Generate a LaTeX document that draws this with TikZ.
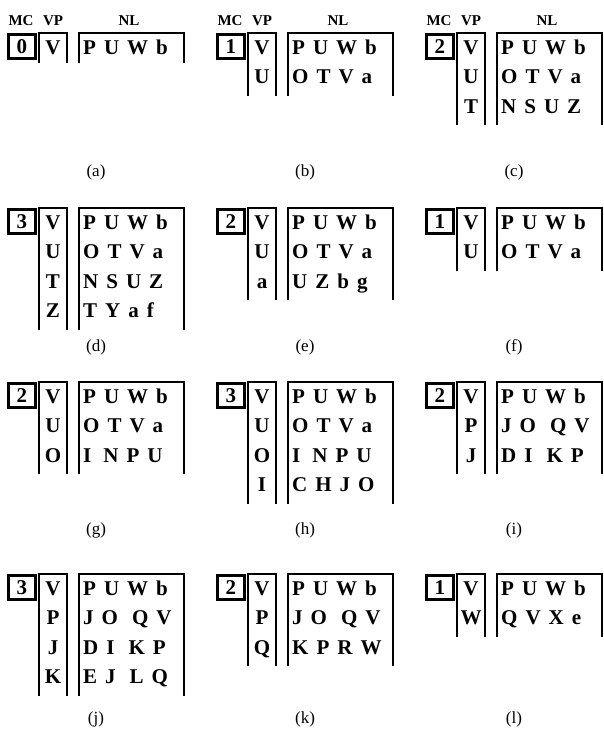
\documentclass[tikz,border=0pt]{standalone}
\usepackage{fontspec}
\setmainfont{Liberation Serif}
\usepackage{tikz}
\newcommand{\nlfont}{\bfseries\fontsize{21}{21}\selectfont\spaceskip 8pt\relax}

\begin{document}
\begin{tikzpicture}[x=1pt,y=-1pt,line join=miter,
  mcbox/.style={draw,line width=2.5pt,anchor=north west,minimum width=27pt,minimum height=24pt,inner sep=0pt,font=\bfseries\fontsize{21}{21}\selectfont},
  vpline/.style={line width=1.3pt},
  nlside/.style={line width=1.3pt},
  nltop/.style={line width=2.4pt},
  cell/.style={inner sep=0pt,anchor=base,font=\bfseries\fontsize{21}{21}\selectfont},
  nlrow/.style={inner sep=0pt,anchor=base west,font=\nlfont},
  head/.style={inner sep=0pt,anchor=base,font=\bfseries\fontsize{15}{15}\selectfont},
  tag/.style={inner sep=0pt,anchor=base,font=\fontsize{17}{17}\selectfont}]
\useasboundingbox (0,0) rectangle (604,742);

%% row 1 ---------------------------------------------
% (a)
\begin{scope}[shift={(7,33)}]
\node[head] (mcha) at (14,-8) {MC};
\node[head] (vpha) at (46,-8) {VP};
\node[head] (nlha) at (122,-8) {NL};
\node[mcbox] (mca) at (0,0) {0};
\draw[vpline] (32,30) |- (60,0) -- (60,30);
\draw[nlside] (72,30) |- (177,0) -- (177,30);
\draw[nltop] (72,0) -- (177,0);
\node[cell] (vpa1) at (46,21) {V};
\node[nlrow] (nla1) at (76,21) {P U W b};
\node[tag] (taga) at (89,143) {(a)};
\end{scope}

% (b)
\begin{scope}[shift={(216,33)}]
\node[head] (mchb) at (14,-8) {MC};
\node[head] (vphb) at (46,-8) {VP};
\node[head] (nlhb) at (122,-8) {NL};
\node[mcbox] (mcb) at (0,0) {1};
\draw[vpline] (32,63) |- (60,0) -- (60,63);
\draw[nlside] (72,63) |- (177,0) -- (177,63);
\draw[nltop] (72,0) -- (177,0);
\node[cell] (vpb1) at (46,21) {V};
\node[cell] (vpb2) at (46,50.5) {U};
\node[nlrow] (nlb1) at (76,21) {P U W b};
\node[nlrow] (nlb2) at (76,50.5) {O T V a};
\node[tag] (tagb) at (89,143) {(b)};
\end{scope}

% (c)
\begin{scope}[shift={(425,33)}]
\node[head] (mchc) at (14,-8) {MC};
\node[head] (vphc) at (46,-8) {VP};
\node[head] (nlhc) at (122,-8) {NL};
\node[mcbox] (mcc) at (0,0) {2};
\draw[vpline] (32,92) |- (60,0) -- (60,92);
\draw[nlside] (72,92) |- (177,0) -- (177,92);
\draw[nltop] (72,0) -- (177,0);
\node[cell] (vpc1) at (46,21) {V};
\node[cell] (vpc2) at (46,50.5) {U};
\node[cell] (vpc3) at (46,80) {T};
\node[nlrow] (nlc1) at (76,21) {P U W b};
\node[nlrow] (nlc2) at (76,50.5) {O T V a};
\node[nlrow] (nlc3) at (76,80) {N S U Z};
\node[tag] (tagc) at (89,143) {(c)};
\end{scope}

%% row 2 ---------------------------------------------
% (d)
\begin{scope}[shift={(7,208)}]
\node[mcbox] (mcd) at (0,0) {3};
\draw[vpline] (32,122) |- (60,0) -- (60,122);
\draw[nlside] (72,122) |- (177,0) -- (177,122);
\draw[nltop] (72,0) -- (177,0);
\node[cell] (vpd1) at (46,21) {V};
\node[cell] (vpd2) at (46,50.5) {U};
\node[cell] (vpd3) at (46,80) {T};
\node[cell] (vpd4) at (46,109.5) {Z};
\node[nlrow] (nld1) at (76,21) {P U W b};
\node[nlrow] (nld2) at (76,50.5) {O T V a};
\node[nlrow] (nld3) at (76,80) {N S U Z};
\node[nlrow] (nld4) at (76,109.5) {T Y a f};
\node[tag] (tagd) at (89,143) {(d)};
\end{scope}

% (e)
\begin{scope}[shift={(216,208)}]
\node[mcbox] (mce) at (0,0) {2};
\draw[vpline] (32,92) |- (60,0) -- (60,92);
\draw[nlside] (72,92) |- (177,0) -- (177,92);
\draw[nltop] (72,0) -- (177,0);
\node[cell] (vpe1) at (46,21) {V};
\node[cell] (vpe2) at (46,50.5) {U};
\node[cell] (vpe3) at (46,80) {a};
\node[nlrow] (nle1) at (76,21) {P U W b};
\node[nlrow] (nle2) at (76,50.5) {O T V a};
\node[nlrow] (nle3) at (76,80) {U Z b g};
\node[tag] (tage) at (89,143) {(e)};
\end{scope}

% (f)
\begin{scope}[shift={(425,208)}]
\node[mcbox] (mcf) at (0,0) {1};
\draw[vpline] (32,63) |- (60,0) -- (60,63);
\draw[nlside] (72,63) |- (177,0) -- (177,63);
\draw[nltop] (72,0) -- (177,0);
\node[cell] (vpf1) at (46,21) {V};
\node[cell] (vpf2) at (46,50.5) {U};
\node[nlrow] (nlf1) at (76,21) {P U W b};
\node[nlrow] (nlf2) at (76,50.5) {O T V a};
\node[tag] (tagf) at (89,143) {(f)};
\end{scope}

%% row 3 ---------------------------------------------
% (g)
\begin{scope}[shift={(7,382)}]
\node[mcbox] (mcg) at (0,0) {2};
\draw[vpline] (32,92) |- (60,0) -- (60,92);
\draw[nlside] (72,92) |- (177,0) -- (177,92);
\draw[nltop] (72,0) -- (177,0);
\node[cell] (vpg1) at (46,21) {V};
\node[cell] (vpg2) at (46,50.5) {U};
\node[cell] (vpg3) at (46,80) {O};
\node[nlrow] (nlg1) at (76,21) {P U W b};
\node[nlrow] (nlg2) at (76,50.5) {O T V a};
\node[nlrow] (nlg3) at (76,80) {I\hspace{12pt}N P U};
\node[tag] (tagg) at (89,152) {(g)};
\end{scope}

% (h)
\begin{scope}[shift={(216,382)}]
\node[mcbox] (mch) at (0,0) {3};
\draw[vpline] (32,122) |- (60,0) -- (60,122);
\draw[nlside] (72,122) |- (177,0) -- (177,122);
\draw[nltop] (72,0) -- (177,0);
\node[cell] (vph1) at (46,21) {V};
\node[cell] (vph2) at (46,50.5) {U};
\node[cell] (vph3) at (46,80) {O};
\node[cell] (vph4) at (46,109.5) {I};
\node[nlrow] (nlh1) at (76,21) {P U W b};
\node[nlrow] (nlh2) at (76,50.5) {O T V a};
\node[nlrow] (nlh3) at (76,80) {I\hspace{12pt}N P U};
\node[nlrow] (nlh4) at (76,109.5) {C H J O};
\node[tag] (tagh) at (89,152) {(h)};
\end{scope}

% (i)
\begin{scope}[shift={(425,382)}]
\node[mcbox] (mci) at (0,0) {2};
\draw[vpline] (32,92) |- (60,0) -- (60,92);
\draw[nlside] (72,92) |- (177,0) -- (177,92);
\draw[nltop] (72,0) -- (177,0);
\node[cell] (vpi1) at (46,21) {V};
\node[cell] (vpi2) at (46,50.5) {P};
\node[cell] (vpi3) at (46,80) {J};
\node[nlrow] (nli1) at (76,21) {P U W b};
\node[nlrow] (nli2) at (76,50.5) {J O\hspace{14pt}Q V};
\node[nlrow] (nli3) at (76,80) {D I\hspace{14pt}K P};
\node[tag] (tagi) at (89,152) {(i)};
\end{scope}

%% row 4 ---------------------------------------------
% (j)
\begin{scope}[shift={(7,574)}]
\node[mcbox] (mcj) at (0,0) {3};
\draw[vpline] (32,122) |- (60,0) -- (60,122);
\draw[nlside] (72,122) |- (177,0) -- (177,122);
\draw[nltop] (72,0) -- (177,0);
\node[cell] (vpj1) at (46,21) {V};
\node[cell] (vpj2) at (46,50.5) {P};
\node[cell] (vpj3) at (46,80) {J};
\node[cell] (vpj4) at (46,109.5) {K};
\node[nlrow] (nlj1) at (76,21) {P U W b};
\node[nlrow] (nlj2) at (76,50.5) {J O\hspace{14pt}Q V};
\node[nlrow] (nlj3) at (76,80) {D I\hspace{14pt}K P};
\node[nlrow] (nlj4) at (76,109.5) {E J\hspace{14pt}L Q};
\node[tag] (tagj) at (89,149) {(j)};
\end{scope}

% (k)
\begin{scope}[shift={(216,574)}]
\node[mcbox] (mck) at (0,0) {2};
\draw[vpline] (32,92) |- (60,0) -- (60,92);
\draw[nlside] (72,92) |- (177,0) -- (177,92);
\draw[nltop] (72,0) -- (177,0);
\node[cell] (vpk1) at (46,21) {V};
\node[cell] (vpk2) at (46,50.5) {P};
\node[cell] (vpk3) at (46,80) {Q};
\node[nlrow] (nlk1) at (76,21) {P U W b};
\node[nlrow] (nlk2) at (76,50.5) {J O\hspace{14pt}Q V};
\node[nlrow] (nlk3) at (76,80) {K P R W};
\node[tag] (tagk) at (89,149) {(k)};
\end{scope}

% (l)
\begin{scope}[shift={(425,574)}]
\node[mcbox] (mcl) at (0,0) {1};
\draw[vpline] (32,63) |- (60,0) -- (60,63);
\draw[nlside] (72,63) |- (177,0) -- (177,63);
\draw[nltop] (72,0) -- (177,0);
\node[cell] (vpl1) at (46,21) {V};
\node[cell] (vpl2) at (46,50.5) {W};
\node[nlrow] (nll1) at (76,21) {P U W b};
\node[nlrow] (nll2) at (76,50.5) {Q V X e};
\node[tag] (tagl) at (89,149) {(l)};
\end{scope}

\end{tikzpicture}
\end{document}
